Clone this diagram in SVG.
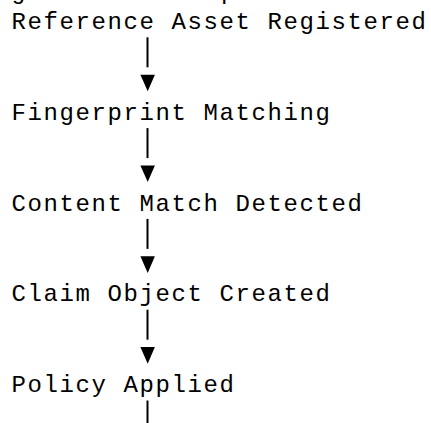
<svg xmlns="http://www.w3.org/2000/svg" width="431" height="423" viewBox="0 0 431 423">
<style>
.t{font-family:"Courier New","Liberation Mono",monospace;font-size:24px;letter-spacing:1.6px;fill:#000}
.bar{stroke:#000;stroke-width:2}
.tri{fill:#000}
</style>
<defs>
<polygon id="tri" points="-7.2,0 7.3,0 0.1,16.6"/>
</defs>
<rect width="431" height="423" fill="#fff"/>
<g id="node-prev"><text class="t" x="11" y="-1.3">g</text><text class="t" x="221" y="-1.3">p</text></g>
<g id="node-reference"><text class="t" x="11.5" y="29">Reference Asset Registered</text></g>
<g id="node-fingerprint"><text class="t" x="11.5" y="119.8">Fingerprint Matching</text></g>
<g id="node-content"><text class="t" x="11.5" y="210.6">Content Match Detected</text></g>
<g id="node-claim"><text class="t" x="11.5" y="301.4">Claim Object Created</text></g>
<g id="node-policy"><text class="t" x="11.5" y="392.2">Policy Applied</text></g>
<g id="connectors">
<line class="bar" x1="147.5" y1="37.3" x2="147.5" y2="67.3"/>
<use href="#tri" class="tri" x="147.6" y="74.7"/>
<line class="bar" x1="147.5" y1="128.1" x2="147.5" y2="158.1"/>
<use href="#tri" class="tri" x="147.6" y="165.5"/>
<line class="bar" x1="147.5" y1="218.9" x2="147.5" y2="248.9"/>
<use href="#tri" class="tri" x="147.6" y="256.3"/>
<line class="bar" x1="147.5" y1="309.7" x2="147.5" y2="339.7"/>
<use href="#tri" class="tri" x="147.6" y="347.1"/>
<line class="bar" x1="147.5" y1="400.5" x2="147.5" y2="430"/>
</g>
</svg>
